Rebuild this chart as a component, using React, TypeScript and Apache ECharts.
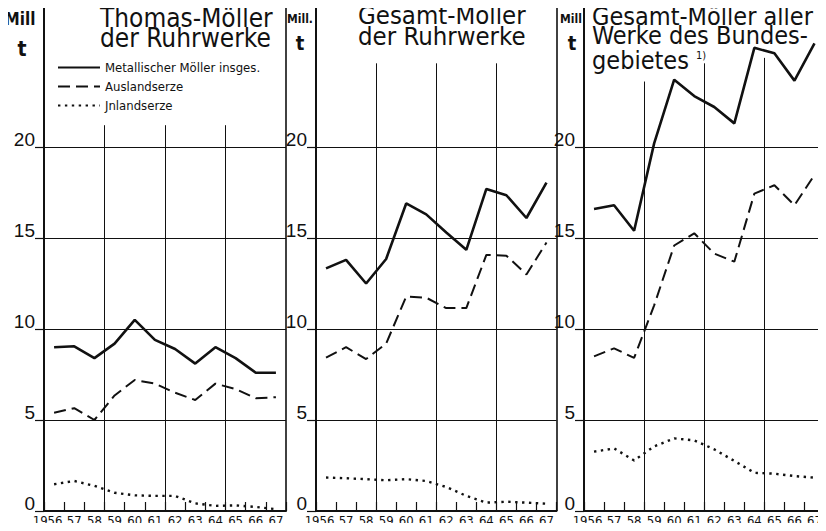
import { useEffect, useRef } from 'react';
import * as echarts from 'echarts';

// Category labels (years)
const years = ['1956', '57', '58', '59', '60', '61', '62', '63', '64', '65', '66', '67'];
const yTickValues = [0, 5, 10, 15, 20];

// Panel 1: Thomas-Möller der Ruhrwerke (Mill. t)
const thomasTotal = [9.0, 9.05, 8.4, 9.2, 10.5, 9.4, 8.9, 8.1, 9.0, 8.4, 7.6, 7.6];
const thomasForeign = [5.4, 5.65, 5.0, 6.35, 7.2, 7.0, 6.5, 6.1, 7.0, 6.7, 6.2, 6.25];
const thomasDomestic = [1.47, 1.65, 1.38, 1.0, 0.86, 0.83, 0.83, 0.42, 0.28, 0.31, 0.22, 0.1];

// Panel 2: Gesamt-Möller der Ruhrwerke
const ruhrTotal = [13.33, 13.8, 12.5, 13.85, 16.9, 16.3, 15.3, 14.35, 17.7, 17.35, 16.1, 18.05];
const ruhrForeign = [8.43, 9.0, 8.35, 9.2, 11.78, 11.72, 11.15, 11.15, 14.07, 14.03, 13.0, 14.75];
const ruhrDomestic = [1.84, 1.8, 1.75, 1.69, 1.75, 1.65, 1.32, 0.83, 0.46, 0.51, 0.46, 0.4];

// Panel 3: Gesamt-Möller aller Werke des Bundesgebietes
const bundTotal = [16.6, 16.8, 15.4, 20.2, 23.7, 22.8, 22.2, 21.3, 25.45, 25.15, 23.65, 25.7];
const bundForeign = [8.5, 8.94, 8.41, 11.3, 14.59, 15.26, 14.14, 13.7, 17.44, 17.9, 16.8, 18.47];
const bundDomestic = [3.26, 3.44, 2.78, 3.55, 3.99, 3.88, 3.39, 2.75, 2.1, 2.05, 1.92, 1.83];

const seriesNames = ['Metallischer Möller insges.', 'Auslandserze', 'Jnlandserze'];

const panelData = [
  [thomasTotal, thomasForeign, thomasDomestic],
  [ruhrTotal, ruhrForeign, ruhrDomestic],
  [bundTotal, bundForeign, bundDomestic],
];

// layout (positions only)
const Y_MAX = 27.75;
const gridLayout = [
  { left: 44, right: 540, vTops: [21.2, 21.2, 21.2], borderTop: Y_MAX },
  { left: 316, right: 269.5, vTops: [24.6, 24.6, 24.6], borderTop: Y_MAX },
  { left: 584, right: 1.5, vTops: [23.6, 24.6, 24.9], borderTop: 20 },
];

const INK = '#111';
const COND = '"DejaVu Sans Condensed", "DejaVu Sans", sans-serif';

export default function App() {
  const ref = useRef<HTMLDivElement>(null);

  useEffect(() => {
    if (!ref.current) return;
    const chart = echarts.init(ref.current, undefined, { renderer: 'svg' });

    const grids: any[] = [];
    const xAxes: any[] = [];
    const yAxes: any[] = [];
    const series: any[] = [];

    gridLayout.forEach((g, gi) => {
      grids.push({ left: g.left, right: g.right, top: 6, bottom: 20, containLabel: false });
      xAxes.push({
        gridIndex: gi,
        type: 'value',
        min: 0,
        max: 12,
        interval: 1,
        axisLine: { show: true, lineStyle: { color: INK, width: 2 } },
        axisTick: { show: true, inside: true, length: 9, lineStyle: { color: INK, width: 1.2 } },
        axisLabel: { show: false },
        splitLine: { show: false },
      });
      xAxes.push({
        gridIndex: gi,
        type: 'category',
        position: 'bottom',
        data: years.map((y, i) =>
          i === 0 ? { value: y, textStyle: { padding: [0, 13, 0, 0] } } : y
        ),
        axisLine: { show: false },
        axisTick: { show: false },
        splitLine: { show: false },
        axisLabel: { interval: 0, fontSize: 13, fontFamily: COND, color: INK, margin: 3 },
      });
      yAxes.push({
        gridIndex: gi,
        type: 'value',
        min: 0,
        max: Y_MAX,
        interval: 5,
        axisLine: { show: true, lineStyle: { color: INK, width: 2 } },
        axisTick: {
          show: true,
          length: 9,
          customValues: yTickValues,
          lineStyle: { color: INK, width: 1.2 },
        },
        splitLine: { show: true, lineStyle: { color: INK, width: 1.2, type: 'solid' } },
        axisLabel: {
          customValues: yTickValues,
          fontSize: 19,
          fontFamily: '"Liberation Sans", Arial, sans-serif',
          color: INK,
          margin: 9,
          verticalAlign: 'bottom',
          lineHeight: 16,
        },
      });

      const markData: any[] = [];
      [3, 6, 9].forEach((x, k) => {
        markData.push([{ coord: [x, 0], lineStyle: { width: 1 } }, { coord: [x, g.vTops[k]] }]);
      });
      markData.push([{ coord: [12, 0], lineStyle: { width: 1.6 } }, { coord: [12, g.borderTop] }]);

      const [tot, forn, dom] = panelData[gi];
      series.push({
        type: 'line',
        name: seriesNames[0],
        xAxisIndex: gi * 2,
        yAxisIndex: gi,
        data: tot.map((v, i) => [i + 0.5, v]),
        symbol: 'none',
        lineStyle: { color: INK, width: 2.6, type: 'solid' },
        itemStyle: { color: INK },
        z: 5,
        markLine: {
          silent: true,
          symbol: ['none', 'none'],
          label: { show: false },
          lineStyle: { color: INK, width: 1.1, type: 'solid' },
          data: markData,
          animation: false,
        },
      });
      series.push({
        type: 'line',
        name: seriesNames[1],
        xAxisIndex: gi * 2,
        yAxisIndex: gi,
        data: forn.map((v, i) => [i + 0.5, v]),
        symbol: 'none',
        lineStyle: { color: INK, width: 2, type: [12, 6] },
        itemStyle: { color: INK },
        z: 5,
      });
      series.push({
        type: 'line',
        name: seriesNames[2],
        xAxisIndex: gi * 2,
        yAxisIndex: gi,
        data: dom.map((v, i) => [i + 0.5, v]),
        symbol: 'none',
        lineStyle: { color: INK, width: 2.4, type: [2.4, 4.5] },
        itemStyle: { color: INK },
        z: 5,
      });
    });

    const txt = (text: string, x: number, y: number, fontSize: number, extra: any = {}) => ({
      type: 'text',
      x,
      y,
      silent: true,
      style: {
        text,
        fontSize,
        fontFamily: COND,
        fill: INK,
        textAlign: 'left',
        textVerticalAlign: 'middle',
        ...extra,
      },
    });

    const graphic: any[] = [
      txt('Thomas-Möller\nder Ruhrwerke', 100, 8, 26, { textVerticalAlign: 'top', lineHeight: 20 }),
      txt('Gesamt-Möller\nder Ruhrwerke', 358, 5, 25.5, { textVerticalAlign: 'top', lineHeight: 20.5 }),
      txt('Gesamt-Möller aller\nWerke des Bundes-', 592, 7, 25, { textVerticalAlign: 'top', lineHeight: 19 }),
      txt('gebietes', 592, 60, 25),
      txt('1)', 696, 55, 11),
      txt('Mill', 20, 19, 17, { textAlign: 'center', fontWeight: 'bold' }),
      txt('t', 22, 49, 21, { textAlign: 'center', fontWeight: 'bold' }),
      txt('Mill.', 300, 19, 12, { textAlign: 'center', fontWeight: 'bold' }),
      txt('t', 300, 43, 20, { textAlign: 'center', fontWeight: 'bold' }),
      txt('Mill', 571, 19, 12, { textAlign: 'center', fontWeight: 'bold' }),
      txt('t', 572, 43, 20, { textAlign: 'center', fontWeight: 'bold' }),
    ];

    chart.setOption({
      animation: false,
      backgroundColor: '#fff',
      grid: grids,
      xAxis: xAxes,
      yAxis: yAxes,
      series,
      legend: {
        data: seriesNames,
        orient: 'vertical',
        left: 52,
        top: 56,
        itemWidth: 42,
        itemHeight: 12,
        itemGap: 6,
        selectedMode: false,
        itemStyle: { opacity: 0 },
        textStyle: { fontSize: 13, fontFamily: COND, color: INK },
      },
      graphic,
    });

    return () => chart.dispose();
  }, []);

  return <div ref={ref} style={{ width: 826, height: 531, margin: -8 }} />;
}
